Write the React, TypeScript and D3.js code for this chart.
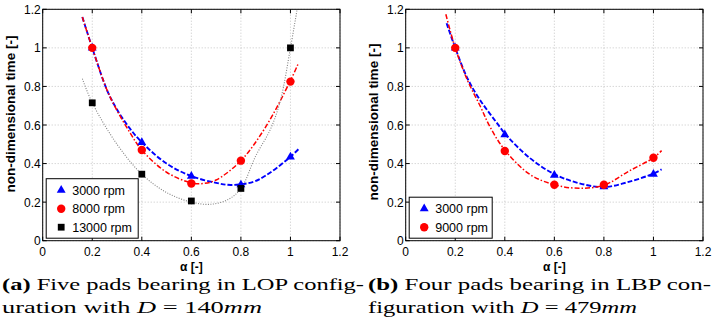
import React from 'react';
import * as d3 from 'd3';

// measured points (alpha vs non-dimensional time)
const alpha = [0.2, 0.4, 0.6, 0.8, 1.0];
const lop3000 = [1.0, 0.51, 0.335, 0.29, 0.435];
const lop8000 = [1.0, 0.47, 0.297, 0.415, 0.825];
const lop13000 = [0.715, 0.345, 0.206, 0.271, 1.0];
const lbp3000 = [1.0, 0.55, 0.34, 0.28, 0.345];
const lbp9000 = [1.0, 0.465, 0.29, 0.29, 0.43];

// fitted trend curves as [alpha, time]
const lopFit3000 = [[0.16, 1.16], [0.2, 1.0], [0.26, 0.78], [0.3, 0.68], [0.35, 0.585], [0.4, 0.51], [0.5, 0.4], [0.6, 0.335], [0.7, 0.3], [0.76, 0.289], [0.85, 0.305], [0.9, 0.338], [0.96, 0.393], [1.0, 0.435], [1.032, 0.474]];
const lopFit8000 = [[0.16, 1.16], [0.2, 1.0], [0.26, 0.78], [0.3, 0.675], [0.35, 0.565], [0.4, 0.47], [0.5, 0.355], [0.6, 0.3], [0.65, 0.297], [0.7, 0.315], [0.8, 0.415], [0.9, 0.59], [1.0, 0.83], [1.032, 0.92]];
const lopFit13000 = [[0.16, 0.84], [0.2, 0.715], [0.3, 0.5], [0.4, 0.345], [0.5, 0.25], [0.6, 0.2], [0.68, 0.189], [0.75, 0.215], [0.8, 0.27], [0.86, 0.44], [0.92, 0.58], [0.96, 0.73], [1.0, 1.0], [1.027, 1.2]];
const lbpFit3000 = [[0.165, 1.128], [0.2, 1.0], [0.25, 0.84], [0.3, 0.73], [0.38, 0.59], [0.4, 0.555], [0.5, 0.43], [0.6, 0.345], [0.7, 0.298], [0.8, 0.278], [0.9, 0.305], [1.0, 0.348], [1.033, 0.37]];
const lbpFit9000 = [[0.162, 1.174], [0.2, 1.0], [0.25, 0.83], [0.3, 0.7], [0.34, 0.591], [0.4, 0.47], [0.5, 0.345], [0.6, 0.29], [0.7, 0.272], [0.8, 0.288], [0.9, 0.36], [1.0, 0.43], [1.033, 0.467]];

const ticks = [0, 0.2, 0.4, 0.6, 0.8, 1, 1.2];
const tickLabels = ['0', '0.2', '0.4', '0.6', '0.8', '1', '1.2'];

const sans = "'Liberation Sans', Arial, Helvetica, sans-serif";
const serif = "'Liberation Serif', 'Times New Roman', Times, serif";

type Series = {
  label: string;
  values: number[];
  fit: number[][];
  color: string;
  lineColor: string;
  dash: string;
  width: number;
  marker: 'triangle' | 'circle' | 'square';
};

const lopSeries: Series[] = [
  { label: '3000 rpm', values: lop3000, fit: lopFit3000, color: '#0000ff', lineColor: '#0000ff', dash: '5,2', width: 1.9, marker: 'triangle' },
  { label: '8000 rpm', values: lop8000, fit: lopFit8000, color: '#ff0000', lineColor: '#ff0000', dash: '5,2,1.5,2', width: 1.5, marker: 'circle' },
  { label: '13000 rpm', values: lop13000, fit: lopFit13000, color: '#000000', lineColor: '#808080', dash: '1,1.5', width: 1.1, marker: 'square' },
];
const lbpSeries: Series[] = [
  { label: '3000 rpm', values: lbp3000, fit: lbpFit3000, color: '#0000ff', lineColor: '#0000ff', dash: '5,2', width: 1.9, marker: 'triangle' },
  { label: '9000 rpm', values: lbp9000, fit: lbpFit9000, color: '#ff0000', lineColor: '#ff0000', dash: '5,2,1.5,2', width: 1.5, marker: 'circle' },
];

const Marker = ({ type, x, y, color }: { type: string; x: number; y: number; color: string }) => {
  if (type === 'circle') return <circle cx={x} cy={y} r={4.2} fill={color} />;
  const sym = type === 'triangle' ? d3.symbolTriangle : d3.symbolSquare;
  const size = type === 'triangle' ? 34 : 46;
  return <path d={d3.symbol(sym, size)() || ''} transform={`translate(${x},${y})`} fill={color} />;
};

const Panel = ({ id, left, series, labelY, legendW }: { id: string; left: number; series: Series[]; labelY: number; legendW: number }) => {
  const x = d3.scaleLinear().domain([0, 1.2]).range([left, left + 297.3]);
  const y = d3.scaleLinear().domain([0, 1.2]).range([240.7, 9.3]);
  const [x0, x1] = x.range();
  const [y0, y1] = y.range();
  const line = d3.line<number[]>().x(d => x(d[0])).y(d => y(d[1])).curve(d3.curveCatmullRom);
  const legH = series.length * 18.5 + 4;
  const legX = x0 + 3.5;
  const legY = y0 - 2.5 - legH;
  return (
    <g>
      <defs>
        <clipPath id={id}>
          <rect x={x0} y={y1} width={x1 - x0} height={y0 - y1} />
        </clipPath>
      </defs>
      {ticks.map(t => (
        <g key={t}>
          <line x1={x(t)} x2={x(t)} y1={y0} y2={y1} stroke="#b8b8b8" strokeWidth={0.8} strokeDasharray="1,2" />
          <line x1={x0} x2={x1} y1={y(t)} y2={y(t)} stroke="#b8b8b8" strokeWidth={0.8} strokeDasharray="1,2" />
          <line x1={x(t)} x2={x(t)} y1={y0} y2={y0 - 4} stroke="#000" />
          <line x1={x(t)} x2={x(t)} y1={y1} y2={y1 + 4} stroke="#000" />
          <line x1={x0} x2={x0 + 4} y1={y(t)} y2={y(t)} stroke="#000" />
          <line x1={x1} x2={x1 - 4} y1={y(t)} y2={y(t)} stroke="#000" />
        </g>
      ))}
      {ticks.map((t, i) => (
        <g key={'l' + t} style={{ fontFamily: sans, fontSize: 12 }} fill="#000">
          <text x={x(t)} y={y0 + 15.5} textAnchor="middle">{tickLabels[i]}</text>
          <text x={x0 - 2} y={y(t) + 4.5} textAnchor="end">{tickLabels[i]}</text>
        </g>
      ))}
      <g clipPath={`url(#${id})`}>
        {series.map(s => (
          <path key={s.label} d={line(s.fit) || ''} fill="none" stroke={s.lineColor} strokeWidth={s.width} strokeDasharray={s.dash} />
        ))}
      </g>
      {series.map(s => s.values.map((v, i) => (
        <Marker key={s.label + i} type={s.marker} x={x(alpha[i])} y={y(v)} color={s.color} />
      )))}
      <rect x={x0} y={y1} width={x1 - x0} height={y0 - y1} fill="none" stroke="#000" strokeWidth={1} />
      <text x={(x0 + x1) / 2} y={271} textAnchor="middle" style={{ fontFamily: sans, fontSize: 12, fontWeight: 'bold' }}>α [-]</text>
      <text transform={`translate(${x0 - 27.5},${labelY}) rotate(-90)`} textAnchor="middle" style={{ fontFamily: sans, fontSize: 13.5, fontWeight: 'bold' }}>non-dimensional time [-]</text>
      <rect x={legX} y={legY} width={legendW} height={legH} fill="#fff" stroke="#000" strokeWidth={1} />
      {series.map((s, i) => (
        <g key={'g' + s.label}>
          <Marker type={s.marker} x={legX + 15} y={legY + 11.5 + i * 18.5} color={s.color} />
          <text x={legX + 26} y={legY + 16 + i * 18.5} style={{ fontFamily: sans, fontSize: 12.5 }}>{s.label}</text>
        </g>
      ))}
    </g>
  );
};

const App = () => (
  <svg width={713} height={333} style={{ position: 'absolute', left: 0, top: 0, background: '#fff' }}>
    <Panel id="clipA" left={42.7} series={lopSeries} labelY={114} legendW={92} />
    <Panel id="clipB" left={405.7} series={lbpSeries} labelY={122} legendW={83} />
    <g style={{ fontFamily: serif, fontSize: 17 }} fill="#000">
      <text x={2} y={290} textLength={362} lengthAdjust="spacingAndGlyphs">
        <tspan fontWeight="bold">(a)</tspan> Five pads bearing in LOP config-
      </text>
      <text x={2} y={313} textLength={260} lengthAdjust="spacingAndGlyphs">
        uration with <tspan fontStyle="italic">D</tspan> = 140<tspan fontStyle="italic">mm</tspan>
      </text>
      <text x={368} y={290} textLength={343} lengthAdjust="spacingAndGlyphs">
        <tspan fontWeight="bold">(b)</tspan> Four pads bearing in LBP con-
      </text>
      <text x={368} y={313} textLength={269} lengthAdjust="spacingAndGlyphs">
        figuration with <tspan fontStyle="italic">D</tspan> = 479<tspan fontStyle="italic">mm</tspan>
      </text>
    </g>
  </svg>
);

export default App;
